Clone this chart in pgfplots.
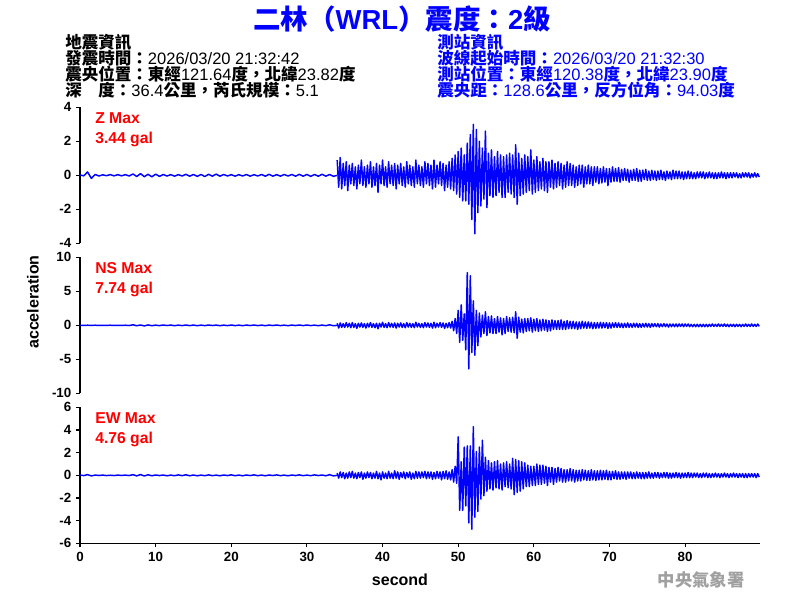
\documentclass[border=0pt]{standalone}
\usepackage{pgfplots}
\pgfplotsset{compat=1.18}
\usepackage{pgfplotstable}
\usepackage{fontspec}
\setmainfont{Liberation Sans}
\newfontfamily\cjk{Noto Sans CJK TC}
\definecolor{wblue}{RGB}{0,0,255}
\definecolor{wgray}{RGB}{160,160,160}

% ---------- pre-event samples: 0.0 ... 34.0 s, step 0.5 s ----------
\pgfplotstableread[row sep=\\]{y\\
0.02\\ -0.03\\ 0.2\\ -0.18\\ 0.05\\ -0.04\\ 0.03\\ -0.02\\ 0.04\\ -0.03\\
0.04\\ -0.03\\ 0.04\\ -0.04\\ 0.08\\ -0.07\\ 0.1\\ -0.08\\ 0.06\\ -0.09\\
0.07\\ -0.06\\ 0.05\\ -0.04\\ 0.04\\ -0.05\\ 0.04\\ -0.04\\ 0.06\\ -0.05\\
0.05\\ -0.06\\ 0.05\\ -0.07\\ 0.06\\ -0.05\\ 0.07\\ -0.05\\ 0.05\\ -0.04\\
0.04\\ -0.05\\ 0.04\\ -0.04\\ 0.05\\ -0.05\\ 0.04\\ -0.04\\ 0.05\\ -0.05\\
0.06\\ -0.05\\ 0.04\\ -0.05\\ 0.05\\ -0.04\\ 0.05\\ -0.05\\ 0.06\\ -0.05\\
0.05\\ -0.06\\ 0.05\\ -0.05\\ 0.06\\ -0.05\\ 0.05\\ -0.06\\ 0.0\\
}\Zpre
\pgfplotstableread[row sep=\\]{y\\
0.01\\ -0.02\\ 0.02\\ -0.01\\ 0.02\\ -0.02\\ 0.01\\ -0.01\\ 0.02\\ -0.02\\
0.01\\ -0.02\\ 0.02\\ -0.03\\ 0.08\\ -0.06\\ 0.05\\ -0.08\\ 0.06\\ -0.05\\
0.03\\ -0.04\\ 0.05\\ -0.03\\ 0.04\\ -0.05\\ 0.03\\ -0.04\\ 0.05\\ -0.04\\
0.04\\ -0.05\\ 0.03\\ -0.04\\ 0.05\\ -0.03\\ 0.04\\ -0.05\\ 0.03\\ -0.04\\
0.05\\ -0.04\\ 0.03\\ -0.05\\ 0.04\\ -0.03\\ 0.05\\ -0.04\\ 0.03\\ -0.05\\
0.04\\ -0.03\\ 0.05\\ -0.04\\ 0.03\\ -0.05\\ 0.04\\ -0.03\\ 0.05\\ -0.04\\
0.05\\ -0.04\\ 0.03\\ -0.05\\ 0.04\\ -0.05\\ 0.08\\ -0.06\\ 0.0\\
}\Npre
\pgfplotstableread[row sep=\\]{y\\
0.02\\ -0.02\\ 0.06\\ -0.05\\ 0.02\\ -0.01\\ 0.02\\ -0.02\\ 0.01\\ -0.02\\
0.02\\ -0.01\\ 0.02\\ -0.02\\ 0.06\\ -0.05\\ 0.07\\ -0.06\\ 0.05\\ -0.04\\
0.03\\ -0.02\\ 0.03\\ -0.04\\ 0.02\\ -0.03\\ 0.04\\ -0.03\\ 0.05\\ -0.04\\
0.03\\ -0.04\\ 0.02\\ -0.03\\ 0.04\\ -0.03\\ 0.02\\ -0.04\\ 0.03\\ -0.02\\
0.04\\ -0.03\\ 0.02\\ -0.04\\ 0.03\\ -0.02\\ 0.04\\ -0.03\\ 0.02\\ -0.04\\
0.03\\ -0.02\\ 0.04\\ -0.03\\ 0.02\\ -0.04\\ 0.03\\ -0.02\\ 0.04\\ -0.03\\
0.02\\ -0.03\\ 0.04\\ -0.02\\ 0.03\\ -0.04\\ 0.06\\ -0.05\\ 0.0\\
}\Epre

% ---------- event samples: 34.0 ... 89.8 s, step 0.2 s (one line = one second) ----------
\pgfplotstableread[row sep=\\]{y\\
0.9\\ -0.7\\ 1.05\\ -0.8\\ 0.7\\
-0.6\\ 0.8\\ -0.9\\ 0.6\\ -0.5\\
0.7\\ -0.6\\ 0.5\\ -0.8\\ 0.6\\
-0.5\\ 0.9\\ -0.6\\ 0.5\\ -0.7\\
0.6\\ -0.5\\ 0.8\\ -0.7\\ 0.5\\
-0.6\\ 0.7\\ -1.0\\ 0.6\\ -0.5\\
0.9\\ -0.6\\ 0.5\\ -0.7\\ 0.8\\
-0.5\\ 0.6\\ -0.6\\ 0.7\\ -0.8\\
0.6\\ -0.5\\ 0.7\\ -0.6\\ 0.5\\
-0.7\\ 0.8\\ -0.5\\ 0.6\\ -0.6\\
0.5\\ -0.7\\ 0.9\\ -0.5\\ 0.6\\
-0.6\\ 0.5\\ -0.7\\ 0.8\\ -0.5\\
0.7\\ -0.6\\ 0.6\\ -0.8\\ 0.9\\
-0.7\\ 0.6\\ -0.5\\ 0.8\\ -0.6\\
0.7\\ -0.9\\ 0.6\\ -0.7\\ 0.8\\
-0.8\\ 1.0\\ -0.9\\ 1.2\\ -1.1\\
1.4\\ -1.3\\ 1.6\\ -1.5\\ 1.2\\
-1.5\\ 1.9\\ -1.7\\ 2.4\\ -2.6\\
3.0\\ -3.44\\ 2.7\\ -2.2\\ 2.0\\
-1.8\\ 1.6\\ -1.4\\ 2.6\\ -1.9\\
1.3\\ -1.2\\ 1.5\\ -1.3\\ 1.1\\
-1.2\\ 1.4\\ -1.0\\ 1.2\\ -1.3\\
1.1\\ -1.3\\ 1.2\\ -1.0\\ 1.3\\
-1.1\\ 1.2\\ -1.3\\ 1.8\\ -1.7\\
1.3\\ -1.2\\ 1.0\\ -1.1\\ 1.2\\
-1.0\\ 1.1\\ -0.9\\ 1.5\\ -1.1\\
0.9\\ -1.0\\ 1.1\\ -0.9\\ 0.8\\
-0.8\\ 1.0\\ -0.9\\ 0.8\\ -1.0\\
0.8\\ -0.7\\ 0.9\\ -0.8\\ 0.7\\
-0.7\\ 0.8\\ -0.6\\ 0.7\\ -0.8\\
0.6\\ -0.7\\ 0.8\\ -0.6\\ 0.7\\
-0.6\\ 0.6\\ -0.7\\ 0.5\\ -0.6\\
0.6\\ -0.5\\ 0.6\\ -0.7\\ 0.5\\
-0.5\\ 0.6\\ -0.5\\ 0.5\\ -0.6\\
0.5\\ -0.4\\ 0.5\\ -0.5\\ 0.4\\
-0.45\\ 0.5\\ -0.4\\ 0.4\\ -0.6\\
0.4\\ -0.4\\ 0.5\\ -0.35\\ 0.4\\
-0.35\\ 0.45\\ -0.4\\ 0.35\\ -0.3\\
0.4\\ -0.3\\ 0.35\\ -0.4\\ 0.3\\
-0.3\\ 0.35\\ -0.3\\ 0.4\\ -0.35\\
0.3\\ -0.35\\ 0.3\\ -0.25\\ 0.35\\
-0.3\\ 0.25\\ -0.3\\ 0.3\\ -0.25\\
0.25\\ -0.3\\ 0.25\\ -0.25\\ 0.3\\
-0.25\\ 0.2\\ -0.3\\ 0.25\\ -0.2\\
0.2\\ -0.25\\ 0.3\\ -0.2\\ 0.25\\
-0.2\\ 0.25\\ -0.2\\ 0.2\\ -0.25\\
0.2\\ -0.2\\ 0.25\\ -0.2\\ 0.2\\
-0.2\\ 0.15\\ -0.2\\ 0.2\\ -0.15\\
0.2\\ -0.15\\ 0.2\\ -0.2\\ 0.15\\
-0.15\\ 0.2\\ -0.15\\ 0.15\\ -0.2\\
0.15\\ -0.2\\ 0.15\\ -0.15\\ 0.2\\
-0.15\\ 0.15\\ -0.2\\ 0.15\\ -0.15\\
0.15\\ -0.15\\ 0.15\\ -0.1\\ 0.15\\
-0.15\\ 0.1\\ -0.15\\ 0.15\\ -0.1\\
0.15\\ -0.1\\ 0.15\\ -0.15\\ 0.1\\
-0.1\\ 0.15\\ -0.1\\ 0.1\\ -0.1\\
}\Zact
\pgfplotstableread[row sep=\\]{y\\
0.3\\ -0.4\\ 0.35\\ -0.3\\ 0.25\\
-0.3\\ 0.4\\ -0.25\\ 0.3\\ -0.35\\
0.4\\ -0.3\\ 0.25\\ -0.45\\ 0.3\\
-0.25\\ 0.35\\ -0.3\\ 0.25\\ -0.4\\
0.3\\ -0.25\\ 0.4\\ -0.3\\ 0.25\\
-0.35\\ 0.3\\ -0.5\\ 0.3\\ -0.25\\
0.45\\ -0.3\\ 0.25\\ -0.35\\ 0.4\\
-0.25\\ 0.3\\ -0.3\\ 0.35\\ -0.4\\
0.3\\ -0.25\\ 0.35\\ -0.3\\ 0.25\\
-0.35\\ 0.4\\ -0.25\\ 0.3\\ -0.3\\
0.25\\ -0.35\\ 0.45\\ -0.25\\ 0.3\\
-0.3\\ 0.25\\ -0.35\\ 0.4\\ -0.25\\
0.35\\ -0.3\\ 0.3\\ -0.4\\ 0.45\\
-0.35\\ 0.3\\ -0.25\\ 0.4\\ -0.3\\
0.35\\ -0.45\\ 0.3\\ -0.35\\ 0.4\\
-0.4\\ 0.6\\ -0.8\\ 1.0\\ -1.2\\
2.2\\ -2.5\\ 3.0\\ -2.2\\ 1.7\\
-3.6\\ 7.74\\ -6.4\\ 7.3\\ -4.0\\
3.6\\ -4.4\\ 2.2\\ -3.0\\ 1.8\\
-1.7\\ 1.5\\ -1.2\\ 2.0\\ -1.5\\
1.3\\ -1.1\\ 1.4\\ -1.2\\ 1.0\\
-1.2\\ 1.3\\ -1.0\\ 1.1\\ -1.4\\
1.0\\ -1.2\\ 1.3\\ -0.9\\ 1.1\\
-1.0\\ 1.2\\ -1.1\\ 2.0\\ -1.9\\
1.2\\ -1.0\\ 0.9\\ -1.1\\ 1.0\\
-0.9\\ 1.0\\ -0.8\\ 1.1\\ -1.0\\
0.9\\ -0.8\\ 1.0\\ -0.9\\ 0.8\\
-0.8\\ 0.9\\ -0.7\\ 0.8\\ -0.9\\
0.7\\ -0.8\\ 0.8\\ -0.6\\ 0.7\\
-0.6\\ 0.7\\ -0.6\\ 0.8\\ -0.6\\
0.6\\ -0.6\\ 0.7\\ -0.5\\ 0.6\\
-0.5\\ 0.6\\ -0.5\\ 0.5\\ -0.6\\
0.5\\ -0.5\\ 0.6\\ -0.4\\ 0.5\\
-0.45\\ 0.5\\ -0.4\\ 0.45\\ -0.5\\
0.4\\ -0.45\\ 0.4\\ -0.4\\ 0.45\\
-0.4\\ 0.4\\ -0.35\\ 0.4\\ -0.45\\
0.35\\ -0.4\\ 0.35\\ -0.3\\ 0.4\\
-0.3\\ 0.35\\ -0.3\\ 0.3\\ -0.35\\
0.3\\ -0.3\\ 0.35\\ -0.3\\ 0.25\\
-0.3\\ 0.3\\ -0.25\\ 0.3\\ -0.3\\
0.25\\ -0.3\\ 0.25\\ -0.25\\ 0.3\\
-0.25\\ 0.25\\ -0.3\\ 0.25\\ -0.2\\
0.25\\ -0.2\\ 0.25\\ -0.25\\ 0.2\\
-0.2\\ 0.25\\ -0.2\\ 0.2\\ -0.25\\
0.2\\ -0.2\\ 0.2\\ -0.2\\ 0.2\\
-0.2\\ 0.2\\ -0.15\\ 0.2\\ -0.2\\
0.2\\ -0.15\\ 0.2\\ -0.2\\ 0.15\\
-0.2\\ 0.15\\ -0.2\\ 0.15\\ -0.2\\
0.15\\ -0.2\\ 0.15\\ -0.2\\ 0.15\\
-0.2\\ 0.15\\ -0.15\\ 0.2\\ -0.15\\
0.15\\ -0.15\\ 0.2\\ -0.15\\ 0.15\\
-0.15\\ 0.2\\ -0.15\\ 0.15\\ -0.2\\
0.15\\ -0.15\\ 0.15\\ -0.2\\ 0.15\\
-0.15\\ 0.15\\ -0.2\\ 0.15\\ -0.15\\
0.2\\ -0.15\\ 0.15\\ -0.15\\ 0.2\\
-0.15\\ 0.15\\ -0.15\\ 0.2\\ -0.15\\
}\Nact
\pgfplotstableread[row sep=\\]{y\\
0.2\\ -0.25\\ 0.3\\ -0.2\\ 0.25\\
-0.3\\ 0.2\\ -0.25\\ 0.3\\ -0.2\\
0.35\\ -0.25\\ 0.2\\ -0.3\\ 0.25\\
-0.2\\ 0.3\\ -0.35\\ 0.2\\ -0.25\\
0.3\\ -0.2\\ 0.25\\ -0.3\\ 0.2\\
-0.25\\ 0.35\\ -0.3\\ 0.2\\ -0.4\\
0.3\\ -0.25\\ 0.2\\ -0.3\\ 0.35\\
-0.25\\ 0.2\\ -0.3\\ 0.4\\ -0.25\\
0.3\\ -0.35\\ 0.25\\ -0.2\\ 0.3\\
-0.3\\ 0.25\\ -0.2\\ 0.3\\ -0.35\\
0.2\\ -0.3\\ 0.35\\ -0.25\\ 0.3\\
-0.25\\ 0.3\\ -0.2\\ 0.35\\ -0.3\\
0.3\\ -0.25\\ 0.3\\ -0.35\\ 0.25\\
-0.3\\ 0.35\\ -0.25\\ 0.3\\ -0.4\\
0.35\\ -0.3\\ 0.4\\ -0.35\\ 0.3\\
-0.4\\ 0.5\\ -0.6\\ 0.8\\ -0.7\\
3.4\\ -3.1\\ 1.2\\ -3.1\\ 2.5\\
-2.7\\ 2.6\\ -4.2\\ 2.6\\ -4.76\\
4.3\\ -3.7\\ 2.1\\ -3.2\\ 2.5\\
-2.1\\ 3.1\\ -1.8\\ 1.6\\ -1.4\\
1.3\\ -1.2\\ 1.1\\ -1.3\\ 1.2\\
-1.1\\ 1.3\\ -1.2\\ 1.0\\ -1.3\\
1.1\\ -1.0\\ 1.2\\ -1.1\\ 1.0\\
-1.2\\ 1.5\\ -1.7\\ 1.4\\ -1.5\\
1.3\\ -1.4\\ 1.2\\ -1.2\\ 1.1\\
-1.0\\ 0.9\\ -1.0\\ 0.8\\ -0.9\\
0.8\\ -0.9\\ 1.0\\ -0.8\\ 0.9\\
-0.8\\ 0.9\\ -0.7\\ 0.8\\ -0.9\\
0.7\\ -0.6\\ 0.7\\ -0.8\\ 0.6\\
-0.6\\ 0.7\\ -0.5\\ 0.6\\ -0.6\\
0.5\\ -0.6\\ 0.5\\ -0.5\\ 0.6\\
-0.5\\ 0.5\\ -0.6\\ 0.45\\ -0.5\\
0.45\\ -0.5\\ 0.5\\ -0.4\\ 0.45\\
-0.45\\ 0.4\\ -0.45\\ 0.5\\ -0.4\\
0.4\\ -0.45\\ 0.4\\ -0.4\\ 0.45\\
-0.4\\ 0.4\\ -0.35\\ 0.45\\ -0.4\\
0.35\\ -0.4\\ 0.35\\ -0.3\\ 0.4\\
-0.35\\ 0.3\\ -0.35\\ 0.3\\ -0.3\\
0.3\\ -0.35\\ 0.3\\ -0.25\\ 0.3\\
-0.3\\ 0.25\\ -0.3\\ 0.3\\ -0.25\\
0.25\\ -0.3\\ 0.25\\ -0.3\\ 0.25\\
-0.25\\ 0.3\\ -0.25\\ 0.2\\ -0.25\\
0.25\\ -0.2\\ 0.25\\ -0.25\\ 0.2\\
-0.2\\ 0.25\\ -0.2\\ 0.25\\ -0.25\\
0.2\\ -0.25\\ 0.2\\ -0.2\\ 0.25\\
-0.2\\ 0.2\\ -0.25\\ 0.2\\ -0.2\\
0.2\\ -0.2\\ 0.25\\ -0.2\\ 0.2\\
-0.2\\ 0.2\\ -0.15\\ 0.2\\ -0.2\\
0.15\\ -0.2\\ 0.2\\ -0.15\\ 0.2\\
-0.2\\ 0.15\\ -0.2\\ 0.15\\ -0.15\\
0.2\\ -0.15\\ 0.15\\ -0.2\\ 0.15\\
-0.15\\ 0.2\\ -0.15\\ 0.15\\ -0.2\\
0.15\\ -0.15\\ 0.2\\ -0.15\\ 0.15\\
-0.2\\ 0.15\\ -0.15\\ 0.15\\ -0.2\\
0.15\\ -0.2\\ 0.15\\ -0.15\\ 0.15\\
-0.15\\ 0.15\\ -0.2\\ 0.15\\ -0.15\\
}\Eact

\pgfplotsset{
  seis/.style={
    scale only axis, width=510pt, height=102pt,
    xmin=0, xmax=89.9,
    axis y line*=left,
    tick align=outside,
    major tick length=3pt,
    tick style={black, line width=0.8pt},
    axis line style={black, line width=0.9pt},
    ticklabel style={font=\fontsize{10}{12}\selectfont\bfseries},
    /pgf/number format/assume math mode=true,
    clip=false,
  },
  wave/.style={wblue, line width=1.1pt, line join=round},
}
\newcommand\cj[1]{{\cjk\bfseries #1}}

\begin{document}
\begin{tikzpicture}[x=1pt,y=1pt]
\path[use as bounding box] (0,0) rectangle (600,-450);

% title
\node[font=\fontsize{20.6}{22}\selectfont\bfseries, text=wblue] at (301.5,-14)
  {{\cjk 二林（}WRL{\cjk ）震度：}2{\cjk 級}};

% earthquake info (left)
\begin{scope}[every node/.style={anchor=base west, inner sep=0pt, font=\fontsize{12.4}{14}\selectfont}]
\node at (48.75,-36) {\cj{地震資訊}};
\node at (48.75,-48) {\cj{發震時間：}2026/03/20 21:32:42};
\node at (48.75,-60) {\cj{震央位置：東經}121.64\cj{度，北緯}23.82\cj{度}};
\node at (48.75,-72) {\cj{深　度：}36.4\cj{公里，芮氏規模：}5.1};
\end{scope}
% station info (right)
\begin{scope}[every node/.style={anchor=base west, inner sep=0pt, text=wblue, font=\fontsize{12.4}{14}\selectfont}]
\node at (327.75,-36) {\cj{測站資訊}};
\node at (327.75,-48) {\cj{波線起始時間：}2026/03/20 21:32:30};
\node at (327.75,-60) {\cj{測站位置：東經}120.38\cj{度，北緯}23.90\cj{度}};
\node at (327.75,-72) {\cj{震央距：}128.6\cj{公里，反方位角：}94.03\cj{度}};
\end{scope}

% Z panel
\begin{axis}[seis, at={(60pt,-80.5pt)}, anchor=north west,
  axis x line=none, ymin=-4, ymax=4, ytick={-4,-2,0,2,4}]
\addplot[wave] table[x expr=\coordindex*0.5, y=y] {\Zpre};
\addplot[wave] table[x expr=34+\coordindex*0.2, y=y] {\Zact};
\end{axis}

% NS panel
\begin{axis}[seis, at={(60pt,-193pt)}, anchor=north west,
  axis x line=none, ymin=-10, ymax=10, ytick={-10,-5,0,5,10}]
\addplot[wave] table[x expr=\coordindex*0.5, y=y] {\Npre};
\addplot[wave] table[x expr=34+\coordindex*0.2, y=y] {\Nact};
\end{axis}

% EW panel
\begin{axis}[seis, at={(60pt,-305.5pt)}, anchor=north west,
  axis x line*=bottom, ymin=-6, ymax=6, ytick={-6,-4,-2,0,2,4,6},
  xtick={0,10,20,30,40,50,60,70,80}]
\addplot[wave] table[x expr=\coordindex*0.5, y=y] {\Epre};
\addplot[wave] table[x expr=34+\coordindex*0.2, y=y] {\Eact};
\end{axis}

% panel annotations
\begin{scope}[every node/.style={anchor=base west, inner sep=0pt, text=red, font=\fontsize{11.8}{14}\selectfont\bfseries}]
\node at (71.25,-92.25) {Z Max};
\node at (71.25,-107.25) {3.44 gal};
\node at (71.25,-204.75) {NS Max};
\node at (71.25,-219.75) {7.74 gal};
\node at (71.25,-317.25) {EW Max};
\node at (71.25,-332.25) {4.76 gal};
\end{scope}

% axis titles
\node[rotate=90, font=\fontsize{12}{14}\selectfont\bfseries] at (24.75,-226.5) {acceleration};
\node[font=\fontsize{12}{14}\selectfont\bfseries] at (300,-435) {second};

% agency mark
\node[font=\fontsize{13}{15}\selectfont\bfseries, text=wgray] at (525.75,-435) {\cjk 中央氣象署};
\end{tikzpicture}
\end{document}
